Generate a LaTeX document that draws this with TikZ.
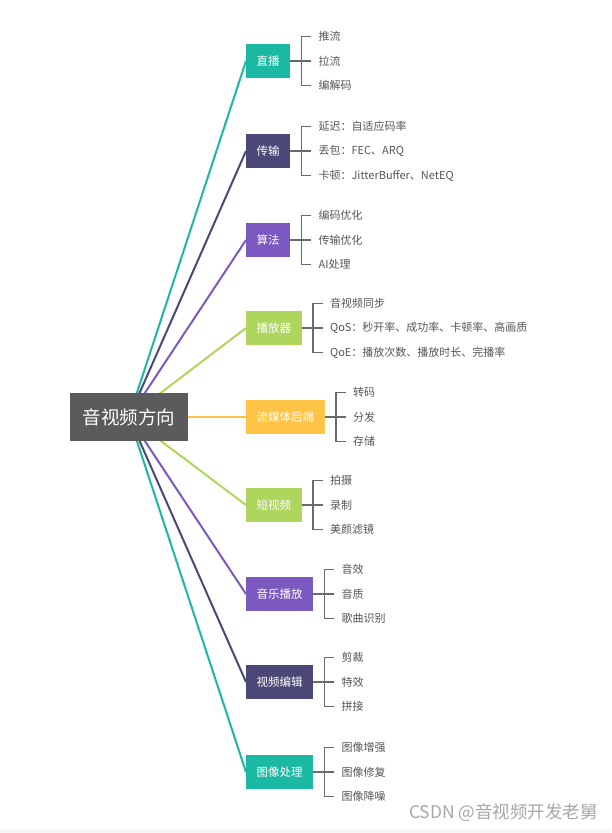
\documentclass[tikz,border=0pt]{standalone}
\usepackage{fontspec}
\newfontfamily\cjk{Noto Sans CJK SC}
\usetikzlibrary{calc,positioning,backgrounds}
\definecolor{mmTeal}{HTML}{1BB9A2}
\definecolor{mmNavy}{HTML}{4B4878}
\definecolor{mmPurple}{HTML}{7B59C0}
\definecolor{mmGreen}{HTML}{AED65C}
\definecolor{mmOrange}{HTML}{FFC445}
\definecolor{mmRoot}{HTML}{5B5B5B}
\definecolor{mmText}{HTML}{555555}
\definecolor{mmLine}{HTML}{6A6A6A}
\tikzset{
  hub/.style={rectangle, fill=mmRoot, text=white, font=\cjk\fontsize{18.5}{20}\selectfont,
    minimum height=48pt, inner xsep=12.5pt, inner ysep=0pt},
  branch/.style={rectangle, text=white, font=\cjk\fontsize{11.5}{13}\selectfont,
    minimum height=34pt, inner xsep=10.5pt, inner ysep=0pt, anchor=west},
  leaf/.style={font=\cjk\fontsize{11}{13}\selectfont, text=mmText,
    inner xsep=7pt, inner ysep=1pt, anchor=west},
  spoke/.style={line width=2pt},
  bracket/.style={line width=1.4pt, draw=mmLine},
  stamp/.style={font=\cjk\fontsize{17.5}{19}\selectfont, text=gray!70, inner sep=0pt},
}
\begin{document}
\begin{tikzpicture}[x=1pt, y=-1pt]
  \useasboundingbox (0,0) rectangle (611,833);
  \fill[gray!6] (0,829) rectangle (611,833);
  \node[hub] (hub) at (129,417) {音视频方向};
  \foreach \name/\y/\col/\txt/\ta/\tb/\tc in {
      live/61/mmTeal/直播/推流/拉流/编解码,
      trans/151/mmNavy/传输/延迟：自适应码率/丢包：FEC、ARQ/卡顿：JitterBuffer、NetEQ,
      algo/240/mmPurple/算法/编码优化/传输优化/AI处理,
      player/328/mmGreen/播放器/音视频同步/QoS：秒开率、成功率、卡顿率、高画质/QoE：播放次数、播放时长、完播率,
      backend/417/mmOrange/流媒体后端/转码/分发/存储,
      short/505/mmGreen/短视频/拍摄/录制/美颜滤镜,
      music/594/mmPurple/音乐播放/音效/音质/歌曲识别,
      edit/682/mmNavy/视频编辑/剪裁/特效/拼接,
      image/772/mmTeal/图像处理/图像增强/图像修复/图像降噪} {
    \node[branch, fill=\col] (\name) at (246,\y) {\txt};
    \coordinate (\name-j) at ($(\name.east)+(11,0)$);
    \node[leaf] (\name-a) at ($(\name-j)+(10,-24.5)$) {\ta};
    \node[leaf] (\name-b) at ($(\name-j)+(10,0)$) {\tb};
    \node[leaf] (\name-c) at ($(\name-j)+(10,24.5)$) {\tc};
    \draw[bracket] (\name.east) -- (\name-b.west);
    \draw[bracket] (\name-a.west) -| (\name-j) |- (\name-c.west);
    \begin{scope}[on background layer]
      \draw[spoke, draw=\col] (hub.center) -- (\name.west);
    \end{scope}
  }
  \node[stamp, anchor=east] (credit) at (598,813) {CSDN @音视频开发老舅};
\end{tikzpicture}
\end{document}
